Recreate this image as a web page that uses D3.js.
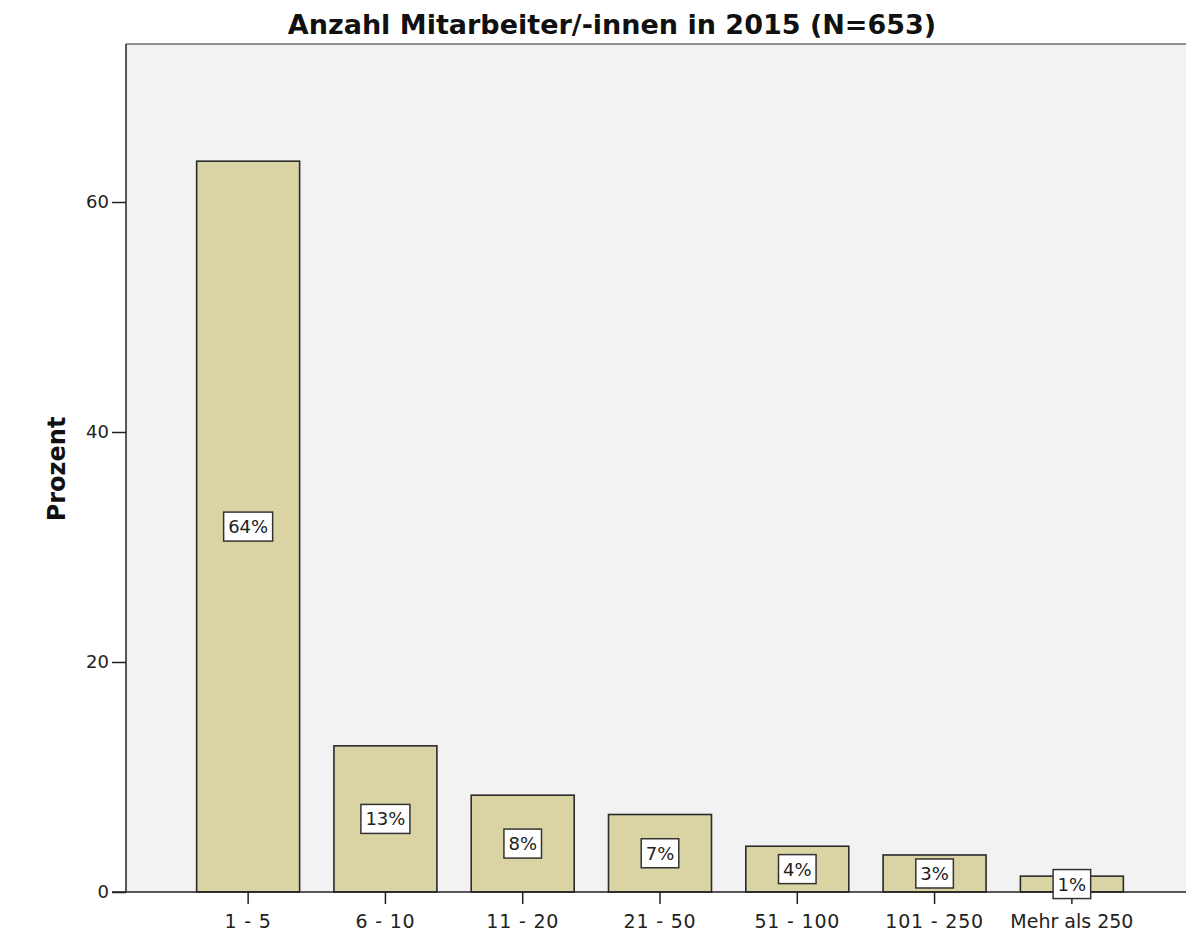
<!DOCTYPE html>
<html>
<head>
<meta charset="utf-8">
<script src="https://cdn.jsdelivr.net/npm/d3@7"></script>
<style>
  html, body { margin: 0; padding: 0; background: #ffffff; }
  svg { display: block; }
  text { font-family: "DejaVu Sans", sans-serif; }
</style>
</head>
<body>
<svg id="chart" width="1186" height="936"></svg>
<script>
const title = "Anzahl Mitarbeiter/-innen in 2015 (N=653)";
const yTitle = "Prozent";
const categories = ["1 - 5", "6 - 10", "11 - 20", "21 - 50", "51 - 100", "101 - 250", "Mehr als 250"];
const percents = [63.55, 12.71, 8.42, 6.74, 3.98, 3.22, 1.38];
const yTicks = [0, 20, 40, 60];

(function () {
const svg = d3.select("#chart");
const pLeft = 126, pTop = 44, pBottom = 892, pRight = 1186;

const y = d3.scaleLinear().domain([0, 73.74]).range([pBottom, pTop]);
const x = d3.scaleBand().domain(categories).range([128, 1192]).paddingInner(0.25).paddingOuter(0.5);

// plot background
svg.append("rect").attr("x", pLeft).attr("y", pTop).attr("width", pRight - pLeft).attr("height", pBottom - pTop)
  .attr("fill", "#f2f2f2");
// top border
svg.append("line").attr("x1", pLeft).attr("x2", pRight).attr("y1", pTop).attr("y2", pTop)
  .attr("stroke", "#6e6e6e").attr("stroke-width", 1.5);

// bars
svg.append("g").selectAll("rect").data(percents).join("rect")
  .attr("x", (d, i) => x(categories[i]))
  .attr("y", d => y(d))
  .attr("width", x.bandwidth())
  .attr("height", d => y(0) - y(d))
  .attr("fill", "#dad4a4")
  .attr("stroke", "#2a2a2a")
  .attr("stroke-width", 1.6);

// y axis
const yAxis = svg.append("g").attr("transform", `translate(${pLeft},0)`)
  .call(d3.axisLeft(y).tickValues(yTicks).tickSize(14).tickPadding(3).tickFormat(d3.format("d")));
yAxis.select(".domain").attr("d", `M0,${pTop}V${pBottom}`).attr("stroke", "#222").attr("stroke-width", 1.5);
yAxis.selectAll(".tick line").attr("stroke", "#222").attr("stroke-width", 1.5);
yAxis.selectAll(".tick text").attr("font-size", 18).attr("fill", "#222")
  .style("font-family", "DejaVu Sans");

// x axis
const xAxis = svg.append("g").attr("transform", `translate(0,${pBottom})`)
  .call(d3.axisBottom(x).tickSize(12).tickPadding(11));
xAxis.select(".domain").attr("d", `M${pLeft - 14},0H${pRight}`).attr("stroke", "#222").attr("stroke-width", 1.5);
xAxis.selectAll(".tick line").attr("stroke", "#222").attr("stroke-width", 1.5);
xAxis.selectAll(".tick text").attr("font-size", 19).attr("fill", "#222")
  .style("font-family", "DejaVu Sans")
  .attr("letter-spacing", d => d.startsWith("Mehr") ? 0 : 0.8);

// value labels
const lab = svg.append("g").selectAll("g").data(percents).join("g")
  .attr("transform", (d, i) => `translate(${x(categories[i]) + x.bandwidth() / 2},${(y(d) + y(0)) / 2})`);
lab.append("rect").attr("class", "box");
lab.append("text")
  .attr("text-anchor", "middle").attr("dy", "0.36em")
  .attr("font-size", 18).attr("fill", "#222")
  .text(d => Math.round(d) + "%");
lab.each(function () {
  const g = d3.select(this);
  const w = g.select("text").node().getComputedTextLength() + 9;
  g.select("rect").attr("x", -w / 2).attr("y", -14.5).attr("width", w).attr("height", 29)
    .attr("fill", "#ffffff").attr("stroke", "#333").attr("stroke-width", 1.5);
});

// titles
svg.append("text").attr("x", 612).attr("y", 34).attr("text-anchor", "middle")
  .attr("font-size", 27).attr("font-weight", "bold").attr("fill", "#111").text(title);
svg.append("text").attr("transform", `translate(65,469) rotate(-90)`).attr("text-anchor", "middle")
  .attr("font-size", 24).attr("font-weight", "bold").attr("fill", "#111").text(yTitle);
})();
</script>
</body>
</html>
